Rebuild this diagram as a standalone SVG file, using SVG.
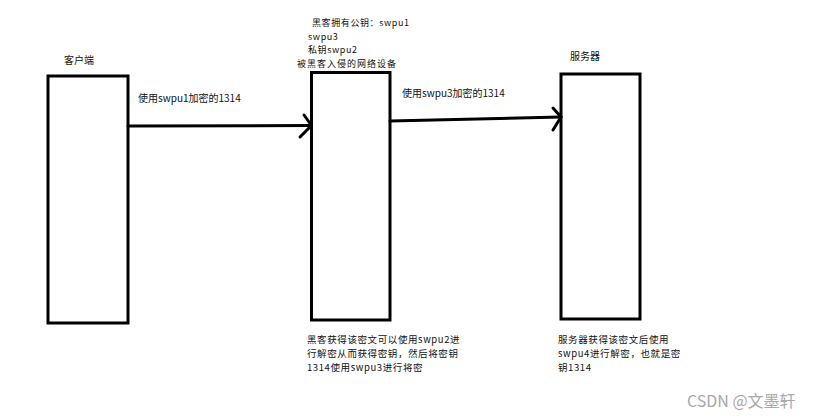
<svg xmlns="http://www.w3.org/2000/svg" width="832" height="419" viewBox="0 0 832 419">
<style>
.box{fill:#fff;stroke:#000;stroke-width:3}
.ln{fill:none;stroke:#000;stroke-width:3;stroke-linecap:round;stroke-linejoin:round}
text{font-family:"Noto Sans CJK SC","Liberation Sans",sans-serif;font-size:10px;fill:#111}
.s9{font-size:9px;letter-spacing:0.6px}
.s95{font-size:9.5px;letter-spacing:0.6px}
.wm{font-size:16px;fill:#a8a8a8}
</style>
<rect width="832" height="419" fill="#fff"/>
<g id="client">
<rect class="box" x="48" y="76" width="80" height="247"/>
<text x="64" y="64">客户端</text>
</g>
<g id="device">
<rect class="box" x="311.5" y="72.5" width="78.5" height="247.5"/>
<text class="s9" x="312" y="26">黑客拥有公钥：swpu1</text>
<text class="s9" x="308" y="39.5">swpu3</text>
<text class="s9" x="308" y="53">私钥swpu2</text>
<text class="s9" x="297" y="66.5" style="letter-spacing:1px">被黑客入侵的网络设备</text>
<text class="s95" x="307" y="343">黑客获得该密文可以使用swpu2进</text>
<text class="s95" x="307" y="357">行解密从而获得密钥，然后将密钥</text>
<text class="s95" x="307" y="371">1314使用swpu3进行将密</text>
</g>
<g id="server">
<rect class="box" x="561" y="74" width="79" height="245"/>
<text x="570" y="60">服务器</text>
<text class="s95" x="558" y="343">服务器获得该密文后使用</text>
<text class="s95" x="558" y="357">swpu4进行解密，也就是密</text>
<text class="s95" x="558" y="371">钥1314</text>
</g>
<g id="connectors">
<path class="ln" d="M128 126 L311 125.5"/>
<path class="ln" d="M304 115 L311.5 125.5 L300 137"/>
<text x="138" y="102">使用swpu1加密的1314</text>
<path class="ln" d="M390 121 L561 117"/>
<path class="ln" d="M553 108 L561 117 L553 130"/>
<text x="402" y="97">使用swpu3加密的1314</text>
</g>
<text class="wm" x="687" y="407">CSDN @文墨轩</text>
</svg>
